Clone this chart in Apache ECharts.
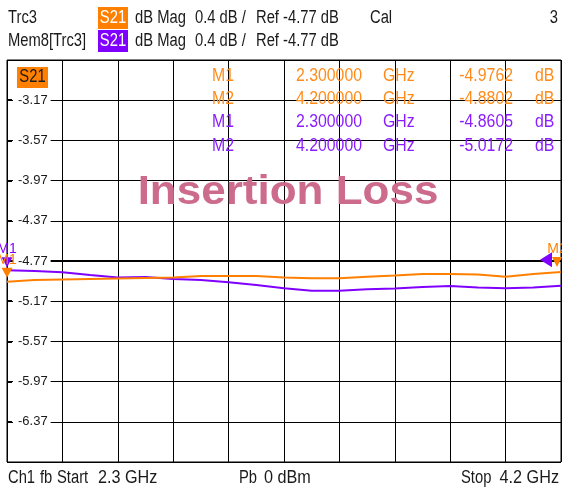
<!DOCTYPE html>
<html>
<head>
<meta charset="utf-8">
<script src="https://cdn.jsdelivr.net/npm/echarts@6/dist/echarts.min.js"></script>
<style>
  html, body { margin: 0; padding: 0; background: #fff; }
  #chart { width: 562px; height: 490px; }
</style>
</head>
<body>
<div id="chart"></div>
<script>
// reference level and scale of the display (dB)
const REF = -4.77;
const DIV = 0.4;

// stimulus points, GHz
const freqs = [2.300, 2.395, 2.490, 2.585, 2.680, 2.775, 2.870, 2.965, 3.060, 3.155, 3.250,
  3.345, 3.440, 3.535, 3.630, 3.725, 3.820, 3.915, 4.010, 4.105, 4.200];

// Trc3 S21, dB (orange)
const traceDb = [-4.976, -4.959, -4.954, -4.949, -4.944, -4.939, -4.934, -4.919, -4.919, -4.919, -4.934,
  -4.942, -4.942, -4.926, -4.914, -4.899, -4.899, -4.904, -4.926, -4.899, -4.880];

// Mem8[Trc3] S21, dB (purple)
const memDb = [-4.861, -4.870, -4.882, -4.909, -4.934, -4.929, -4.949, -4.959, -4.982, -5.009, -5.042,
  -5.066, -5.066, -5.052, -5.044, -5.029, -5.019, -5.034, -5.042, -5.034, -5.017];

// marker readout
const markerNames = ["M1", "M2", "M1", "M2"];
const markerFreqs = ["2.300000", "4.200000", "2.300000", "4.200000"];
const markerVals = ["-4.9762", "-4.8802", "-4.8605", "-5.0172"];

const ORANGE = "#ff8000";
const PURPLE = "#8000ff";
const FONT = '"Liberation Sans", Arial, sans-serif';
const TXT = "#1a1a1a";

const cats = freqs.map((f) => f.toFixed(3));
const toAxis = (arr) => arr.map((v) => +(v - REF).toFixed(4));

// no narrow font installed, so squeeze the text horizontally
function txt(text, x, y, opts = {}) {
  return {
    type: "text",
    silent: true,
    z: 100,
    x: x,
    y: y,
    scaleX: opts.sx || 0.82,
    style: {
      text: text,
      x: 0,
      y: 0,
      fill: opts.fill || TXT,
      font: (opts.weight || "normal") + " " + (opts.size || 18) + "px " + FONT,
      textAlign: opts.align || "left",
      textVerticalAlign: "middle",
    },
  };
}

function badge(y, color) {
  return [
    { type: "rect", silent: true, z: 99, shape: { x: 98, y: y - 11, width: 30, height: 22 }, style: { fill: color } },
    txt("S21", 113, y, { fill: "#fff", align: "center" }),
  ];
}

const graphics = [
  txt("Trc3", 8, 18),
  ...badge(18, ORANGE),
  txt("dB Mag", 135, 18),
  txt("0.4 dB /", 195, 18),
  txt("Ref -4.77 dB", 256, 18),
  txt("Cal", 370, 18),
  txt("3", 558, 18, { align: "right" }),
  txt("Mem8[Trc3]", 8, 41),
  ...badge(41, PURPLE),
  txt("dB Mag", 135, 41),
  txt("0.4 dB /", 195, 41),
  txt("Ref -4.77 dB", 256, 41),
  // S21 tag inside the diagram
  { type: "rect", silent: true, z: 99, shape: { x: 17, y: 67, width: 31, height: 21 }, style: { fill: ORANGE } },
  txt("S21", 32.5, 77.5, { fill: TXT, align: "center" }),
  // title
  txt("Insertion Loss", 288, 193, { fill: "#cc6b8b", size: 40, weight: "bold", align: "center", sx: 1.1 }),
  // footer
  txt("Ch1", 8, 478),
  txt("fb", 40, 478),
  txt("Start", 57, 478),
  txt("2.3 GHz", 98, 478, { sx: 0.9 }),
  txt("Pb", 239, 478),
  txt("0 dBm", 264, 478, { sx: 0.9 }),
  txt("Stop", 461, 478),
  txt("4.2 GHz", 559, 478, { align: "right", sx: 0.9 }),
];

const rowY = [76, 99, 122, 146];
markerNames.forEach((name, i) => {
  const c = i < 2 ? "#ff8c1a" : "#8a1cff";
  graphics.push(txt(name, 212, rowY[i], { fill: c, sx: 0.88 }));
  graphics.push(txt(markerFreqs[i], 362, rowY[i], { fill: c, align: "right", sx: 0.88 }));
  graphics.push(txt("GHz", 383, rowY[i], { fill: c, sx: 0.88 }));
  graphics.push(txt(markerVals[i], 513, rowY[i], { fill: c, align: "right", sx: 0.88 }));
  graphics.push(txt("dB", 535, rowY[i], { fill: c, sx: 0.88 }));
});

const markLabel = (color) => ({
  show: true,
  position: "top",
  distance: 1,
  color: color,
  fontFamily: FONT,
  fontSize: 14,
});

const chart = echarts.init(document.getElementById("chart"), null, { renderer: "canvas" });
chart.setOption({
  animation: false,
  backgroundColor: "#fff",
  grid: {
    left: 7,
    right: 1,
    top: 60,
    bottom: 28,
    show: true,
    borderColor: "#000",
    borderWidth: 1,
  },
  xAxis: {
    type: "category",
    data: cats,
    boundaryGap: false,
    axisLine: { show: true, lineStyle: { color: "#000", width: 2 } },
    axisTick: { show: false },
    axisLabel: { show: false },
    splitLine: {
      show: true,
      interval: (i) => i % 2 === 0,
      lineStyle: { color: "#000", width: 1 },
    },
  },
  yAxis: {
    type: "value",
    min: -5 * DIV,
    max: 5 * DIV,
    interval: DIV,
    axisLine: { show: false },
    axisTick: { show: true, inside: true, length: 5, lineStyle: { color: "#000", width: 2 } },
    axisLabel: {
      inside: true,
      margin: 6,
      padding: [1, 3, 1, 5],
      backgroundColor: "#fff",
      color: TXT,
      fontFamily: FONT,
      fontSize: 13,
      showMinLabel: false,
      showMaxLabel: false,
      formatter: (v) => (v + REF).toFixed(2),
    },
    splitLine: { show: true, lineStyle: { color: "#000", width: 1 } },
  },
  series: [
    {
      name: "Mem8[Trc3]",
      type: "line",
      data: toAxis(memDb),
      showSymbol: false,
      lineStyle: { color: PURPLE, width: 2 },
      itemStyle: { color: PURPLE },
      z: 3,
      markPoint: {
        symbol: "triangle",
        data: [
          {
            coord: [cats[0], memDb[0] - REF],
            symbolSize: [11, 10],
            symbolRotate: 180,
            symbolOffset: [0, -8],
            label: { ...markLabel(PURPLE), formatter: "M1" },
            itemStyle: { color: PURPLE },
          },
          {
            coord: [cats[cats.length - 1], memDb[memDb.length - 1] - REF],
            symbolSize: [15, 12],
            symbolRotate: 90,
            symbolOffset: [-15, -26],
            label: { show: false },
            itemStyle: { color: PURPLE },
          },
        ],
      },
    },
    {
      name: "Trc3",
      type: "line",
      data: toAxis(traceDb),
      showSymbol: false,
      lineStyle: { color: ORANGE, width: 2 },
      itemStyle: { color: ORANGE },
      z: 4,
      markPoint: {
        symbol: "triangle",
        data: [
          {
            coord: [cats[0], traceDb[0] - REF],
            symbolSize: [11, 10],
            symbolRotate: 180,
            symbolOffset: [0, -9],
            label: { ...markLabel(ORANGE), formatter: "M1" },
            itemStyle: { color: ORANGE },
          },
          {
            coord: [cats[cats.length - 1], traceDb[traceDb.length - 1] - REF],
            symbolSize: [10, 10],
            symbolRotate: 180,
            symbolOffset: [-4, -10],
            label: { ...markLabel(ORANGE), formatter: "M2" },
            itemStyle: { color: ORANGE },
          },
        ],
      },
    },
  ],
  graphic: graphics,
});
</script>
</body>
</html>
